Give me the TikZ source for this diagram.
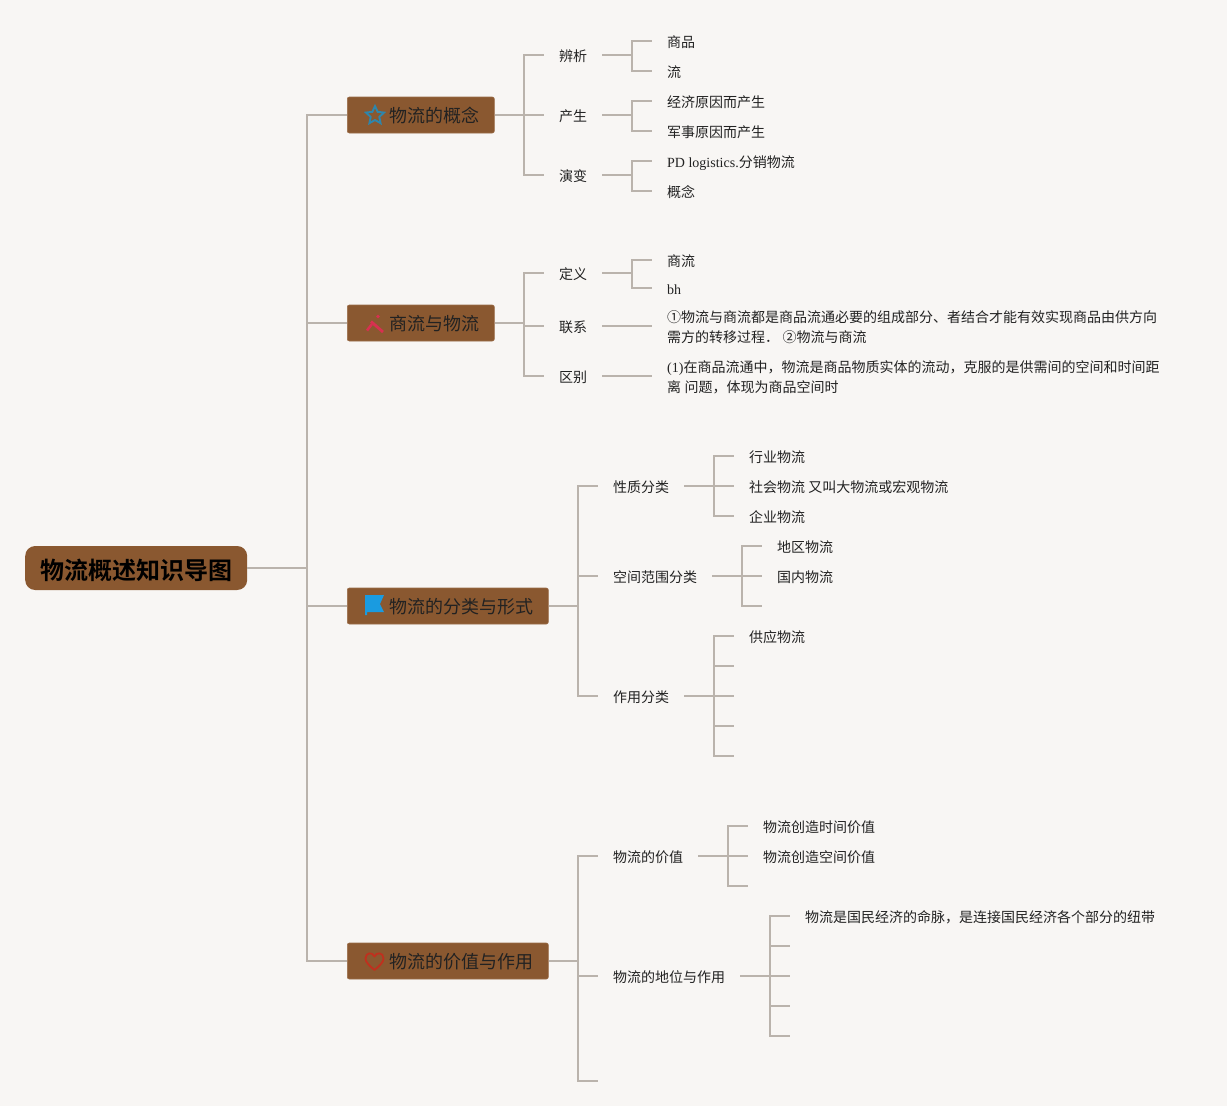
\documentclass[tikz,border=0pt]{standalone}
\usepackage{fontspec}
\setmainfont{Noto Sans CJK SC}[BoldFont={Noto Sans CJK SC Bold}]
\newfontfamily\lat{Liberation Serif}
\usetikzlibrary{shapes.geometric}
\definecolor{bgc}{HTML}{F8F6F4}
\definecolor{linec}{HTML}{BAB3AC}
\definecolor{boxc}{HTML}{8A5830}
\definecolor{boxe}{HTML}{9A6C48}
\definecolor{txt}{HTML}{222222}
\definecolor{icostar}{RGB}{46,134,171}
\definecolor{icotool}{RGB}{216,48,80}
\definecolor{icoflag}{RGB}{26,155,224}
\definecolor{icoheart}{RGB}{192,48,30}
\tikzset{
  x=1pt,y=-1pt,
  conn/.style={draw=linec,line width=2pt},
  rootnode/.style={anchor=west,fill=boxc,rounded corners=10pt,inner xsep=15pt,inner ysep=0pt,minimum height=44pt,text height=26pt,text depth=2.8pt,font=\fontsize{24}{28}\selectfont\bfseries,text=black},
  branch/.style={anchor=west,fill=boxc,draw=boxe,line width=.6pt,rounded corners=2pt,inner xsep=15pt,inner ysep=0pt,minimum height=36pt,text height=18pt,text depth=2.4pt,font=\fontsize{18}{22}\selectfont,text=txt},
  para/.style={anchor=west,inner xsep=15pt,inner ysep=0pt,align=left,font=\fontsize{14}{20}\selectfont,text=txt},
  leaf/.style={para,text height=14pt,text depth=2pt},
}
\newcommand{\elbow}[3]{\draw[conn] (#1.east) -- ++(#2,0) |- (#3);}
\begin{document}
\begin{tikzpicture}
\useasboundingbox (0,0) rectangle (1227,1106);
\fill[bgc] (0,0) rectangle (1227,1106);
% root and branches
\node[rootnode] (root) at (25,568) {物流概述知识导图};
\node[branch] (b1) at (347,115) {\hspace*{27pt}物流的概念};
\node[branch] (b2) at (347,323) {\hspace*{27pt}商流与物流};
\node[branch] (b3) at (347,606) {\hspace*{27pt}物流的分类与形式};
\node[branch] (b4) at (347,961) {\hspace*{27pt}物流的价值与作用};
\foreach \b in {b1,b2,b3,b4} {\elbow{root}{59.7}{\b.west}}
% branch 1
\node[leaf] (a1) at (544,55) {辨析};
\node[leaf] (a2) at (544,115) {产生};
\node[leaf] (a3) at (544,175) {演变};
\foreach \c in {a1,a2,a3} {\elbow{b1}{29.5}{\c.west}}
\node[leaf] (a11) at (652,41) {商品};
\node[leaf] (a12) at (652,71) {流};
\node[leaf] (a21) at (652,101) {经济原因而产生};
\node[leaf] (a22) at (652,131) {军事原因而产生};
\node[leaf] (a31) at (652,161) {{\lat PD logistics.}分销物流};
\node[leaf] (a32) at (652,191) {概念};
\foreach \c in {a11,a12} {\elbow{a1}{29.7}{\c.west}}
\foreach \c in {a21,a22} {\elbow{a2}{29.7}{\c.west}}
\foreach \c in {a31,a32} {\elbow{a3}{29.7}{\c.west}}
% branch 2
\node[leaf] (c1) at (544,273) {定义};
\node[leaf] (c2) at (544,326) {联系};
\node[leaf] (c3) at (544,376) {区别};
\foreach \c in {c1,c2,c3} {\elbow{b2}{29.5}{\c.west}}
\node[leaf] (c11) at (652,260) {商流};
\node[leaf] (c12) at (652,288) {\lat bh};
\node[para] (c21) at (652,327) {①物流与商流都是商品流通必要的组成部分、者结合才能有效实现商品由供方向\\需方的转移过程．{\lat\ }②物流与商流};
\node[para] (c31) at (652,377) {{\lat (1)}在商品流通中，物流是商品物质实体的流动，克服的是供需间的空间和时间距\\离{\lat\ }问题，体现为商品空间时};
\foreach \c in {c11,c12} {\elbow{c1}{29.7}{\c.west}}
\draw[conn] (c2.east) -- (c2.east -| c21.west);
\draw[conn] (c3.east) -- (c3.east -| c31.west);
% branch 3
\node[leaf] (d1) at (598,486) {性质分类};
\node[leaf] (d2) at (598,576) {空间范围分类};
\node[leaf] (d3) at (598,696) {作用分类};
\foreach \c in {d1,d2,d3} {\elbow{b3}{29.5}{\c.west}}
\node[leaf] (d11) at (734,456) {行业物流};
\node[leaf] (d12) at (734,486) {社会物流 又叫大物流或宏观物流};
\node[leaf] (d13) at (734,516) {企业物流};
\foreach \c in {d11,d12,d13} {\elbow{d1}{29.7}{\c.west}}
\node[leaf] (d21) at (762,546) {地区物流};
\node[leaf] (d22) at (762,576) {国内物流};
\coordinate (d23) at (762,606);
\elbow{d2}{29.7}{d21.west}
\elbow{d2}{29.7}{d22.west}
\elbow{d2}{29.7}{d23}
\node[leaf] (d31) at (734,636) {供应物流};
\coordinate (d32) at (734,666);
\coordinate (d33) at (734,696);
\coordinate (d34) at (734,726);
\coordinate (d35) at (734,756);
\elbow{d3}{29.7}{d31.west}
\foreach \c in {d32,d33,d34,d35} {\elbow{d3}{29.7}{\c}}
% branch 4
\node[leaf] (e1) at (598,856) {物流的价值};
\node[leaf] (e2) at (598,976) {物流的地位与作用};
\coordinate (e3) at (598,1081);
\elbow{b4}{29.5}{e1.west}
\elbow{b4}{29.5}{e2.west}
\elbow{b4}{29.5}{e3}
\node[leaf] (e11) at (748,826) {物流创造时间价值};
\node[leaf] (e12) at (748,856) {物流创造空间价值};
\coordinate (e13) at (748,886);
\elbow{e1}{29.7}{e11.west}
\elbow{e1}{29.7}{e12.west}
\elbow{e1}{29.7}{e13}
\node[leaf] (e21) at (790,916) {物流是国民经济的命脉，是连接国民经济各个部分的纽带};
\coordinate (e22) at (790,946);
\coordinate (e23) at (790,976);
\coordinate (e24) at (790,1006);
\coordinate (e25) at (790,1036);
\elbow{e2}{29.7}{e21.west}
\foreach \c in {e22,e23,e24,e25} {\elbow{e2}{29.7}{\c}}
% icons
\node[star,star points=5,star point ratio=2.1,draw=icostar,line width=1.9pt,inner sep=0pt,minimum size=19pt] (i1) at (375,115.5) {};
\draw[icotool,line width=2.8pt] (371,321.5) -- (383,332);
\draw[icotool,line width=2.6pt] (367,330.5) -- (372,324);
\fill[icotool] (378,316.5) circle (1.9);
\fill[icoflag] (365,595) -- (384,595) -- (380,604) -- (384,612) -- (367,612) -- (367,615) -- (365,615) -- cycle;
\draw[icoheart,line width=1.8pt,line join=round] (374.5,970) .. controls (369,965.5) and (365.5,962) .. (365.5,958.5) .. controls (365.5,952.5) and (372.5,951.5) .. (374.5,956.5) .. controls (376.5,951.5) and (383.5,952.5) .. (383.5,958.5) .. controls (383.5,962) and (380,965.5) .. (374.5,970) -- cycle;
\end{tikzpicture}
\end{document}
